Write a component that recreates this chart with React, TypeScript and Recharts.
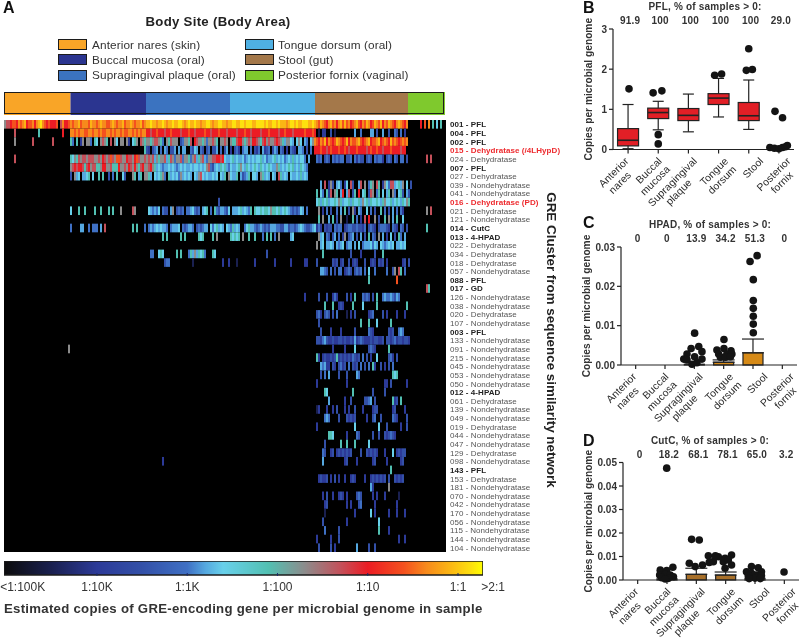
import React from "react";
import {
  ScatterChart, Scatter, XAxis, YAxis, CartesianGrid, BarChart, Bar, ComposedChart, ErrorBar,
} from "recharts";

const FONT = "'Liberation Sans', Arial, sans-serif";

/* ---------- Panel A data ---------- */
const siteLegend = [
  ["Anterior nares (skin)", "#f9a527"],
  ["Buccal mucosa (oral)", "#2b3590"],
  ["Supragingival plaque (oral)", "#3b73c0"],
  ["Tongue dorsum (oral)", "#4fb0e3"],
  ["Stool (gut)", "#a4784a"],
  ["Posterior fornix (vaginal)", "#7fc92d"],
];
const siteSamples = [66.5, 75.5, 84, 85, 93, 37];

const rowLabels = [
  "001 - PFL", "004 - PFL", "002 - PFL", "015 - Dehydratase (/4LHypD)", "024 - Dehydratase", "007 - PFL",
  "027 - Dehydratase", "039 - Nondehydratase", "041 - Nondehydratase", "016 - Dehydratase (PD)", "021 - Dehydratase",
  "121 - Nondehydratase", "014 - CutC", "013 - 4-HPAD", "022 - Dehydratase", "034 - Dehydratase", "018 - Dehydratase",
  "057 - Nondehydratase", "088 - PFL", "017 - GD", "126 - Nondehydratase", "038 - Nondehydratase", "020 - Dehydratase",
  "107 - Nondehydratase", "003 - PFL", "133 - Nondehydratase", "091 - Nondehydratase", "215 - Nondehydratase",
  "045 - Nondehydratase", "053 - Nondehydratase", "050 - Nondehydratase", "012 - 4-HPAD", "061 - Dehydratase",
  "139 - Nondehydratase", "049 - Nondehydratase", "019 - Dehydratase", "044 - Nondehydratase", "047 - Nondehydratase",
  "129 - Dehydratase", "098 - Nondehydratase", "143 - PFL", "153 - Dehydratase", "181 - Nondehydratase",
  "070 - Nondehydratase", "042 - Nondehydratase", "170 - Nondehydratase", "056 - Nondehydratase", "115 - Nondehydratase",
  "144 - Nondehydratase", "104 - Nondehydratase",
];

/* abundance class -> log10(copies per genome) */
const levelLog: Record<string, number> = {
  a: -4.5, b: -4, c: -3.5, d: -3, e: -2.8, f: -2.6, g: -2.1, h: -1.7, i: -1.3, j: -1, k: -0.6, l: -0.35, m: -0.1, n: 0.15,
};
const colorStops: [number, string][] = [
  [-5, "#0d0d10"], [-4.5, "#1a2050"], [-4, "#2c3a98"], [-3.5, "#3350a8"], [-3, "#3f70c4"], [-2.8, "#55a8e0"],
  [-2.6, "#68d0ea"], [-2.1, "#52c0b2"], [-1.7, "#8c8c8c"], [-1.3, "#c4505a"], [-1, "#ec1c24"], [-0.6, "#f4511e"],
  [-0.35, "#f78a1c"], [-0.1, "#fbb414"], [0.15, "#fde10e"], [0.3, "#ffff00"],
];

/* each row: [first sample column, per-column abundance classes ('.' = none)] */
const heatRows: [number, string][][] = [
  [[0, "hiijkkjlklmjkkljlmnlkjkjjjk.iljjk"], [33, "lkllmklllkmllklmllkklmlkllmkllmlkllmkl"], [71, "mmnmmlmmnmlmmnmmnnmlmnmmnmmlmmnnmlmmnnmmlm"], [113, "mnnmmnnmnnnmmnnnnmnmmnnmnmmmlmnnmnmmnnnmmnm"], [156, "lkmlkjlmkljlmkmkljklmkjlkmljkmlkmjlkmlkjlmlkjl"], [208, "j.k.l.g.f.g"]],
  [[5, "i"], [17, "g"], [29, "j"], [33, "llklkllkkllkllklkkllklkllklkkllklklkll"], [71, "jjijjkjjjijjkjjjjijjjkjjijjjjkjjijjjkjjjij"], [113, "jjjijjjkjjijjjjijjjkjjjjijjkjjjijjjjjkjjjkj"], [156, ".a.bb..c.a.........e..d....ee.c..e..c..dc.d.b"]],
  [[5, "h"], [14, "i"], [24, "i"], [33, "gd.g.bh.hhd.gf.hihg.i.hf.hh.hb.fgh.ihg"], [71, "hhghiihgd.hgihhh.cdhhgi.jihhghdhhihg.hhih"], [113, "hggijjhghihjjihgijhihhijihgehhfe.fhf.ed.fh"], [155, "lkjlkmjlkjkmlkjkmjlkklmkjklmjkklmjklkjmklkjklkl"]],
  [[70, "gcb.cde.d.ed.cce.e.ee..dcfe.dc.cd.cce.d"], [110, "ce.b.cdb.dee.d.cbd.ebcd.ced.dc.b.dcb.eed.c.d"], [155, "jjjkjjijkjjjkjjkjijjjkjjjjijkjjkjjijjjkjjjjijj"]],
  [[5, "i"], [33, "gfhgihiihiiihhihjihikihkkihhjiihjkihhij"], [71, "hihiehghhiegihdhhidhhgdhieghiedh"], [103, "hiijjijfeefgefeefdefefeffgefdeefgefefdefegefeffd.e"], [156, "dcd.cdc.dcdcdd.ccd.dbdcc.cdc.dcddb.cdc.dc.dd.c"], [211, "i.i"]],
  [[33, "hijijjigijhiigghjjhhigggjhhihjihjhgijh"], [71, "hijhgefedeefefedefefeefeffefefhi"], [103, "dcefegfgedfeefghfegfefgfegfefgfeehgefefgfgefegfed"]],
  [[33, "c.hef.eefg.f..g.g..c.d.g..fc...hg.eg.h"], [71, "hge.fefghd.gefefdhefefe.fehifefe"], [103, "efef.feg.hfeeg.ecdeg.ffe.hgefe.fe.igefe.feefegefe"]],
  [[157, ".e.i.bhc.efd.bf.ic..ei.h.dgh.ig.bhfdiiefgeh.f.c"]],
  [[156, "g.fd.gbi.hg.ej.ei.cg.j.fg.cih.dg.f.eg.hd.fgc.ec"]],
  [[107, "c"], [156, "fgegfgeffgfhgeffgegffgehfgegffgfeghffgefgfegfhg"]],
  [[33, "f...g..g....g..g...g.g...h.....ih"], [72, "fededf.dcc.eh.cdcd.ddefdcd.efg.d.gdceedcf.e"], [115, "eefgefedg.gffgfggfhggfgefgfedcdcdfe.d"], [156, ".h.b.d.c..d.e.g.c.hb.ed..f.d.c..g.d.c.e.d.db"], [211, "h.i"]],
  [[157, "g.h..e.g.c.h..a..g.d.b.i.j..h.c..g.h.e.g..f"]],
  [[33, "d....ee..d.ddd.e.i.............g.g...d"], [72, "dedefefeed.deeef.dcdeed.cdcdee.fdfgefe.fedgefe"], [120, "dfgeedcdedcdceeeddcceecddcdefedccdef"], [156, "bdb.cbcc.dcdd.bcddccdccbd.cdcb.cdddcb.dcb.dc.c"], [211, "g"]],
  [[79, "g.g"], [88, "g.g"], [97, "gfg"], [104, "g.h"], [113, "gfgfg.h"], [122, "g"], [125, "g"], [129, "d.g.g.d.h"], [143, "ef"], [156, ".hef.dc.ce.d.bh.cde.c.e.c.g.dc.h.e.b.f.c.gd.e"]],
  [[156, "h.ef.eefe.edef.dee.e.f.deeefdfe.fedefef.eefef"]],
  [[73, "dd"], [77, "fgf"], [86, "g.g"], [92, "dgehegfgd"], [104, "gf"], [131, "c"], [159, "g.............c....b......c...g"]],
  [[80, "cdd"], [94, "a"], [109, "b"], [112, "b"], [116, "a"], [125, "b"], [135, "b"], [143, "b"], [150, "bb"], [156, "c"], [164, "cbc.bc..c.bcb...c..bcb.cbc.b.......bc.c"]],
  [[158, "eedc.d.c.dd.bcdc.cdcd.d.f..d.....d..ch.ig.d"]],
  [[182, "g"], [196, "k"]],
  [[211, "ig"]],
  [[150, "b"], [157, "c"], [161, "c"], [164, "bdb"], [171, "c.b.g"], [179, "dcdc"], [184, "c"], [186, "g"], [189, "deddedced"]],
  [[160, "g"], [164, "g"], [167, "bcb"], [174, "g"], [179, "f"], [186, "g"], [201, "g"]],
  [[156, "cdb.cdc"], [164, "c.d"], [171, "a.b.c"], [182, "bcd"], [189, "c.b"], [196, "b"], [200, "b"]],
  [[157, "c"], [178, "g"], [182, "g"], [186, "f"], [193, "g"]],
  [[158, "c"], [163, "b"], [168, "b"], [175, "c"], [182, "dcb"], [192, "cbc"], [197, "ded"]],
  [[156, "ccbdecbbcbbccbcbbcbebcdcbbbcbccbbc.ccbcdbccbccb"]],
  [[32, "h"], [164, "b"], [170, "b"], [175, "f"], [182, "cdcb"], [192, "g"]],
  [[156, "gb.bcbbcbcgbcbcbcbdcbc.d.c.b..f.....cdb.c"]],
  [[158, "edebb.cb.cdbc.d.cbc.d.c.d.gb..c.b.c.d"]],
  [[158, "c.d.e"], [167, "c"], [171, "c"], [176, "ed"], [194, "gfg"]],
  [[156, "b"], [171, "b"], [190, "bb.c"], [201, "b"]],
  [[160, "gf"], [174, "g"], [184, "c"], [190, "c"]],
  [[162, "e"], [170, "b"], [173, "c"], [180, "ccde.c"], [194, "gbc.g"]],
  [[156, "ab"], [161, "b"], [164, "b"], [166, "c"], [170, "b"], [172, "b"], [175, "c"], [179, "b"], [184, "bcc"], [194, "bc"], [200, "b"]],
  [[160, "ded"], [167, "c"], [171, "cbcbc"], [181, "b"], [184, "cd"], [188, "c"], [194, "dcb"], [201, "c"]],
  [[156, "b"], [175, "f"], [187, "f"], [191, "c"], [198, "b"], [201, "c"]],
  [[162, "ggf"], [171, "b"], [176, "dc"], [184, "c"], [187, "c"], [190, "cbcdcb"]],
  [[160, "c"], [168, "g"], [171, "g"], [175, "g"], [182, "f"]],
  [[159, "dc"], [163, "bc"], [166, "bcbcbcbc"], [178, "c"], [181, "cbcbcb"], [190, "b"], [194, "f"], [196, "bcbcc"]],
  [[79, "b"], [159, "e"], [170, "bc"], [176, "b"], [184, "bc"], [191, "b"], [198, "bc"]],
  [[193, "g"]],
  [[157, "bcbbc.b.c.b"], [170, "b"], [173, "bcb"], [180, "b"], [183, "bcbcbcbc"], [192, "c"], [195, "cbcbc"]],
  [[183, "eb"], [192, "h"]],
  [[159, "b"], [161, "c"], [164, "b"], [167, "bcb.b"], [176, "cdc"], [184, "b"], [186, "b"], [190, "b"], [197, "a"]],
  [[160, "bc"], [171, "b"], [173, "b"], [177, "cd"], [185, "b"], [196, "b"]],
  [[160, "a"], [175, "b"], [183, "f"], [185, "b"], [192, "b"], [196, "b"], [200, "b"]],
  [[159, "c"], [171, "b"], [187, "f"]],
  [[160, "d"], [167, "c"], [187, "g"], [192, "b"]],
  [[156, "b"], [163, "b"], [167, "c"], [197, "b"], [200, "b"]],
  [[157, "c"], [163, "c"], [165, "b"], [176, "e"], [182, "c"], [185, "c"]],
];

const scaleTicks = [-5, -4, -3, -2, -1, 0, 0.3];
const scaleLabels = ["<1:100K", "1:10K", "1:1K", "1:100", "1:10", "1:1", ">2:1"];
const scaleLabelShift = [16, 0, 0, 0, 0, 0, 8];

/* ---------- Panels B, C, D data ---------- */
const siteLines = [["Anterior", "nares"], ["Buccal", "mucosa"], ["Supragingival", "plaque"], ["Tongue", "dorsum"], ["Stool"], ["Posterior", "fornix"]];
const siteLabelShift = [1, 4, 9, 10, 15, 12];
const sitePositions = [0.5, 1.5, 2.5, 3.5, 4.5, 5.5];

const pflPercent = ["91.9", "100", "100", "100", "100", "29.0"];
const hpadPercent = ["0", "0", "13.9", "34.2", "51.3", "0"];
const cutcPercent = ["0", "18.2", "68.1", "78.1", "65.0", "3.2"];

const pflLow = [0.02, 0.49, 0.44, 0.81, 0.5, null];
const pflQ1 = [0.09, 0.77, 0.72, 1.12, 0.72, null];
const pflMedian = [0.23, 0.92, 0.85, 1.28, 0.84, null];
const pflQ3 = [0.52, 1.03, 1.02, 1.39, 1.17, null];
const pflHigh = [1.12, 1.2, 1.38, 1.77, 1.73, null];
const pflPoints = [
  [0.53, 1.51], [1.33, 1.41], [1.62, 1.46], [1.5, 0.37], [1.5, 0.14],
  [3.37, 1.85], [3.6, 1.88], [4.42, 1.97], [4.62, 1.99], [4.5, 2.51],
  [5.37, 0.95], [5.62, 0.79], [5.2, 0.05], [5.35, 0.03], [5.5, 0.02], [5.62, 0.05], [5.72, 0.07], [5.78, 0.1],
];

const hpadMean = [null, null, 0.0002, 0.0007, 0.0031, null];
const hpadSpread = [null, null, null, 0.0006, 0.0035, null];
const hpadPoints = [
  [2.51, 0.0081], [2.39, 0.0042], [2.65, 0.0047], [2.25, 0.0028], [2.76, 0.0034], [2.14, 0.0015], [2.51, 0.0021], [2.76, 0.0015], [2.25, 0.0013], [2.42, 0.0002], [2.59, 0.0006],
  [3.51, 0.0065], [3.51, 0.0042], [3.27, 0.0038], [3.75, 0.0036], [3.33, 0.0028], [3.61, 0.0028], [3.78, 0.0028], [3.39, 0.002], [3.56, 0.002], [3.73, 0.0021],
  [4.4, 0.0263], [4.64, 0.0278], [4.51, 0.0217], [4.51, 0.0164], [4.51, 0.0144], [4.51, 0.0124], [4.51, 0.0104], [4.51, 0.0082],
];

const cutcMean = [null, 0.0005, 0.0024, 0.0021, 0.0007, null];
const cutcSpread = [null, null, 0.0026, 0.0013, null, null];
const cutcPoints = [
  [1.49, 0.0476], [1.7, 0.0054], [1.27, 0.0042], [1.49, 0.004], [1.25, 0.0021], [1.44, 0.0024], [1.61, 0.0021], [1.72, 0.0014], [1.32, 0.001], [1.55, 0.0007], [1.44, 0.0004],
  [2.34, 0.0173], [2.6, 0.017], [2.26, 0.0071], [2.46, 0.0057], [2.71, 0.0064],
  [2.91, 0.0103], [3.25, 0.0099], [3.48, 0.0092], [3.7, 0.0106], [3.08, 0.0078], [3.42, 0.0078], [3.59, 0.0085], [2.94, 0.0075], [3.48, 0.005], [3.7, 0.0064], [3.15, 0.0103],
  [4.38, 0.0057], [4.61, 0.0052], [4.21, 0.0035], [4.72, 0.0035], [4.38, 0.0028], [4.5, 0.0021], [4.27, 0.0018], [4.61, 0.0021], [4.72, 0.0018], [4.5, 0.0008], [4.3, 0.0006], [4.68, 0.0006],
  [5.49, 0.0034],
];

/* ---------- helpers ---------- */
const HEAT_W = 442;
const HEAT_H = 432;
const HEAT_COLS = 221;
const CELL_W = HEAT_W / HEAT_COLS;
const CELL_H = HEAT_H / heatRows.length;
const BOX_W = 21;
const BAR_W = 20;

const heatCells = heatRows.flatMap((segs, row) =>
  segs.flatMap(([start, s]) =>
    s.split("").flatMap((ch, i) =>
      levelLog[ch] === undefined ? [] : [{ col: start + i + 0.5, row: row + 0.5, log: levelLog[ch] }]
    )
  )
);

function colorFor(v: number) {
  let best = colorStops[0];
  for (const st of colorStops) if (Math.abs(st[0] - v) < Math.abs(best[0] - v)) best = st;
  return best[1];
}

const HeatCell = (p: any) => (
  <rect x={p.cx - CELL_W / 2} y={p.cy - CELL_H / 2} width={CELL_W} height={CELL_H} fill={colorFor(p.payload.log)} />
);

const RowTick = (p: any) => {
  const label = rowLabels[Math.floor(p.payload.value)];
  const red = label.includes("(");
  const bold = /PFL|CutC|HPAD|GD/.test(label);
  return (
    <text x={p.x + 2} y={p.y + 3} fontSize={8} fontFamily={FONT} letterSpacing={0.06}
      fontWeight={bold || red ? 700 : 400} fill={red ? "#ee2a2e" : bold ? "#222" : "#555"}>
      {label}
    </text>
  );
};

const ScaleTick = (p: any) => {
  const i = scaleTicks.indexOf(p.payload.value);
  return (
    <g>
      {i > 0 && i < 6 ? <line x1={p.x} x2={p.x} y1={p.y - 4} y2={p.y - 1} stroke="#1b2a70" /> : null}
      <text x={p.x + scaleLabelShift[i]} y={p.y + 14} textAnchor="middle" fontSize={12} fontFamily={FONT} fill="#333">
        {scaleLabels[i]}
      </text>
    </g>
  );
};

const Txt = ({ x, y, size, bold, color, center, spacing, children }: any) => (
  <div style={{
    position: "absolute", left: x, top: y, transform: `translate(${center ? "-50%" : "0"},-50%)`,
    fontFamily: FONT, fontSize: size, fontWeight: bold ? 700 : 400, color: color || "#222",
    whiteSpace: "nowrap", letterSpacing: spacing || 0, lineHeight: 1.1,
  }}>{children}</div>
);

const SiteTick = (p: any) => {
  const i = Math.floor(p.payload.value);
  const lines = siteLines[i];
  const longest = Math.max(...lines.map((l) => l.length));
  return (
    <g transform={`translate(${p.x + siteLabelShift[i] - 4},${p.y + 2}) rotate(-45)`}>
      <text textAnchor="end" fontSize={10.4} fontFamily={FONT} fill="#2a2a2a" fontWeight={500} letterSpacing={0.1}>
        {lines.map((l, k) => (
          <tspan key={l} x={-(longest - l.length) * 2.7} dy={k === 0 ? 6 : 11.6}>{l}</tspan>
        ))}
      </text>
    </g>
  );
};

const PercentTick = (p: any) => (
  <text x={p.x + 2} y={p.y + 3} textAnchor="middle" fontSize={10} fontWeight={700} fontFamily={FONT} fill="#333" letterSpacing={0.2}>
    {p.labels[Math.floor(p.payload.value)]}
  </text>
);

const Dot = (p: any) => <circle cx={p.cx} cy={p.cy} r={3.8} fill="#141414" />;

const BoxShape = (p: any) => {
  const d = p.payload;
  if (d.q1 == null || !p.height) return null;
  const perUnit = p.height / (d.high - d.low);
  const yOf = (v: number) => p.y + (d.high - v) * perUnit;
  const cx = p.x + p.width / 2;
  const cap = 5.5;
  const left = cx - BOX_W / 2;
  return (
    <g stroke="#222" strokeWidth={1.2}>
      <line x1={cx} x2={cx} y1={yOf(d.high)} y2={yOf(d.low)} />
      <line x1={cx - cap} x2={cx + cap} y1={yOf(d.high)} y2={yOf(d.high)} />
      <line x1={cx - cap} x2={cx + cap} y1={yOf(d.low)} y2={yOf(d.low)} />
      <rect x={left} y={yOf(d.q3)} width={BOX_W} height={yOf(d.q1) - yOf(d.q3)} fill="#e21f26" />
      <line x1={left} x2={left + BOX_W} y1={yOf(d.median)} y2={yOf(d.median)} strokeWidth={1.6} />
    </g>
  );
};

const MeanBar = (p: any) => {
  if (!p.payload || p.payload.mean == null) return null;
  return (
    <rect x={p.x + p.width / 2 - BAR_W / 2} y={p.y} width={BAR_W} height={p.height}
      fill={p.fill} stroke="#222" strokeWidth={1.2} />
  );
};

const axisStroke = { stroke: "#222", strokeWidth: 1.2 };

function Panel({ left, top, width, height, plotLeft, plotBottom, plotRight, plotTop, yMax, yTicks, digits, percents, data, points, titleX, children }: any) {
  const tickFmt = (v: number) => v.toFixed(digits);
  return (
    <div style={{ position: "absolute", left, top, width, height }}>
      <ComposedChart width={width} height={height} data={data}
        margin={{ left: 0, top: plotTop - 14, right: plotRight, bottom: 0 }}>
        <XAxis dataKey="x" type="number" domain={[0, 6]} ticks={sitePositions} interval={0}
          height={plotBottom} axisLine={axisStroke} tickLine={axisStroke} tickSize={4} tick={<SiteTick />} />
        <XAxis xAxisId="top" dataKey="x" type="number" orientation="top" domain={[0, 6]} ticks={sitePositions} interval={0}
          height={14} axisLine={false} tickLine={false} tick={<PercentTick labels={percents} />} />
        <YAxis type="number" domain={[0, yMax]} ticks={yTicks} interval={0} width={plotLeft}
          axisLine={axisStroke} tickLine={axisStroke} tickSize={4} tickFormatter={tickFmt}
          tick={{ fontSize: 10, fontWeight: 700, fontFamily: FONT, fill: "#333" }}
          label={{ value: "Copies per microbial genome", angle: -90, position: "insideLeft", offset: titleX, dy: 0, style: { textAnchor: "middle", fontSize: 10.2, fontWeight: 700, fontFamily: FONT, fill: "#333" } }} />
        {children}
        <Scatter data={points} dataKey="y" shape={<Dot />} isAnimationActive={false} />
      </ComposedChart>
    </div>
  );
}

const toPoints = (pts: number[][]) => pts.map(([x, y]) => ({ x, y }));

const boxData = sitePositions.map((x, i) => ({
  x, low: pflLow[i], q1: pflQ1[i], median: pflMedian[i], q3: pflQ3[i], high: pflHigh[i],
}));
const hpadData = sitePositions.map((x, i) => ({ x, mean: hpadMean[i], spread: hpadSpread[i] == null ? null : [0, hpadSpread[i]] }));
const cutcData = sitePositions.map((x, i) => ({ x, mean: cutcMean[i], spread: cutcSpread[i] == null ? null : [0, cutcSpread[i]] }));

const stripRow = [Object.fromEntries(siteLegend.map(([name], i) => [name, siteSamples[i]]))];
const stripTotal = siteSamples.reduce((a, b) => a + b, 0);
const scaleRow = [{ name: "scale", from: [-5.03, 0.277] }];

export default function App() {
  return (
    <div style={{ position: "absolute", left: 0, top: 0, width: 800, height: 641, background: "#fff", overflow: "hidden", filter: "blur(0.35px)" }}>
      <Txt x={3} y={8} size={16} bold color="#111">A</Txt>
      <Txt x={218} y={22} size={13.2} bold center color="#222" spacing={0.3}>Body Site (Body Area)</Txt>

      {siteLegend.map(([name, color], i) => {
        const col = i < 3 ? 0 : 1;
        const row = i % 3;
        return (
          <React.Fragment key={name}>
            <div style={{ position: "absolute", left: col ? 245 : 58, top: 39 + row * 15.3, width: 27, height: 9, background: color, border: "1.5px solid #1c1c1c" }} />
            <Txt x={col ? 278 : 92} y={44.5 + row * 15.3} size={11.8} color="#333" spacing={0.1}>{name}</Txt>
          </React.Fragment>
        );
      })}

      {/* body-site strip */}
      <div style={{ position: "absolute", left: 4, top: 92, width: 441, height: 23 }}>
        <BarChart width={441} height={23} data={stripRow} layout="vertical" barCategoryGap={0} margin={{ left: 0, right: 0, top: 0, bottom: 0 }}>
          <XAxis type="number" hide domain={[0, stripTotal]} />
          <YAxis type="category" hide />
          {siteLegend.map(([name, color]) => (
            <Bar key={name} dataKey={name} stackId="s" fill={color} isAnimationActive={false} />
          ))}
        </BarChart>
        <div style={{ position: "absolute", left: 0, top: 0, width: 438, height: 20, border: "1.5px solid #1c1c1c" }} />
      </div>

      {/* heat map */}
      <div style={{ position: "absolute", left: 4, top: 120 }}>
        <ScatterChart width={572} height={HEAT_H} margin={{ left: 0, top: 0, right: 0, bottom: 0 }}>
          <CartesianGrid horizontal={false} vertical={false} fill="#000" fillOpacity={1} stroke="none" />
          <XAxis dataKey="col" type="number" hide domain={[0, HEAT_COLS]} />
          <YAxis type="number" orientation="right" reversed domain={[0, rowLabels.length]} width={572 - HEAT_W}
            ticks={rowLabels.map((_, i) => i + 0.5)} interval={0} axisLine={false} tickLine={false} tickSize={0}
            tick={<RowTick />}
            label={{ value: "GRE Cluster from sequence similarity network", angle: 90, position: "insideRight", offset: 24, dy: 4, style: { textAnchor: "middle", fontSize: 13.4, fontWeight: 700, fontFamily: FONT, fill: "#222" } }} />
          <Scatter data={heatCells} dataKey="row" shape={<HeatCell />} isAnimationActive={false} />
        </ScatterChart>
      </div>

      {/* colour scale */}
      <div style={{ position: "absolute", left: 0, top: 561 }}>
        <BarChart width={510} height={36} data={scaleRow} layout="vertical" barCategoryGap={0} margin={{ left: 4, right: 27, top: 0, bottom: 0 }}>
          <defs>
            <linearGradient id="abund" x1="0" x2="1" y1="0" y2="0">
              {colorStops.map(([v, c]) => (
                <stop key={v} offset={`${((v + 5.03) / 5.307) * 100}%`} stopColor={c} />
              ))}
            </linearGradient>
          </defs>
          <XAxis type="number" domain={[-5.03, 0.277]} ticks={scaleTicks} interval={0} allowDataOverflow height={22}
            axisLine={false} tickLine={false} tickSize={0} tick={<ScaleTick />} />
          <YAxis type="category" hide />
          <Bar dataKey="from" fill="url(#abund)" stroke="#1c1c1c" strokeWidth={1.5} isAnimationActive={false} />
        </BarChart>
      </div>
      <Txt x={4} y={609} size={13.2} bold color="#333" spacing={0.28}>Estimated copies of GRE-encoding gene per microbial genome in sample</Txt>

      {/* B */}
      <Txt x={583} y={8} size={16} bold color="#111">B</Txt>
      <Txt x={705} y={6} size={10} bold center color="#333" spacing={0.2}>PFL, % of samples &gt; 0:</Txt>
      <Panel left={570} top={0} width={230} height={215} plotLeft={43} plotTop={29} plotRight={6} plotBottom={65.5} yMax={3}
        yTicks={[0, 1, 2, 3]} digits={0} percents={pflPercent} data={boxData} points={toPoints(pflPoints)} titleX={18}>
        <Bar dataKey={(d: any) => [d.low, d.high]} barSize={BOX_W} shape={<BoxShape />} isAnimationActive={false} />
      </Panel>

      {/* C */}
      <Txt x={583} y={223} size={16} bold color="#111">C</Txt>
      <Txt x={710} y={224} size={10} bold center color="#333" spacing={0.2}>HPAD, % of samples &gt; 0:</Txt>
      <Panel left={570} top={210} width={230} height={228} plotLeft={51} plotTop={37} plotRight={3} plotBottom={73} yMax={0.03}
        yTicks={[0, 0.01, 0.02, 0.03]} digits={2} percents={hpadPercent} data={hpadData} points={toPoints(hpadPoints)} titleX={16}>
        <Bar dataKey="mean" barSize={BAR_W} fill="#d68a17" shape={<MeanBar />} isAnimationActive={false}>
          <ErrorBar dataKey="spread" direction="y" width={11} stroke="#222" strokeWidth={1.2} isAnimationActive={false} />
        </Bar>
      </Panel>

      {/* D */}
      <Txt x={583} y={441} size={16} bold color="#111">D</Txt>
      <Txt x={710} y={439.5} size={10} bold center color="#333" spacing={0.2}>CutC, % of samples &gt; 0:</Txt>
      <Panel left={570} top={425} width={230} height={216} plotLeft={53} plotTop={37.5} plotRight={1} plotBottom={61} yMax={0.05}
        yTicks={[0, 0.01, 0.02, 0.03, 0.04, 0.05]} digits={2} percents={cutcPercent} data={cutcData} points={toPoints(cutcPoints)} titleX={18}>
        <Bar dataKey="mean" barSize={BAR_W} fill="#a8702a" shape={<MeanBar />} isAnimationActive={false}>
          <ErrorBar dataKey="spread" direction="y" width={11} stroke="#222" strokeWidth={1.2} isAnimationActive={false} />
        </Bar>
      </Panel>
    </div>
  );
}
